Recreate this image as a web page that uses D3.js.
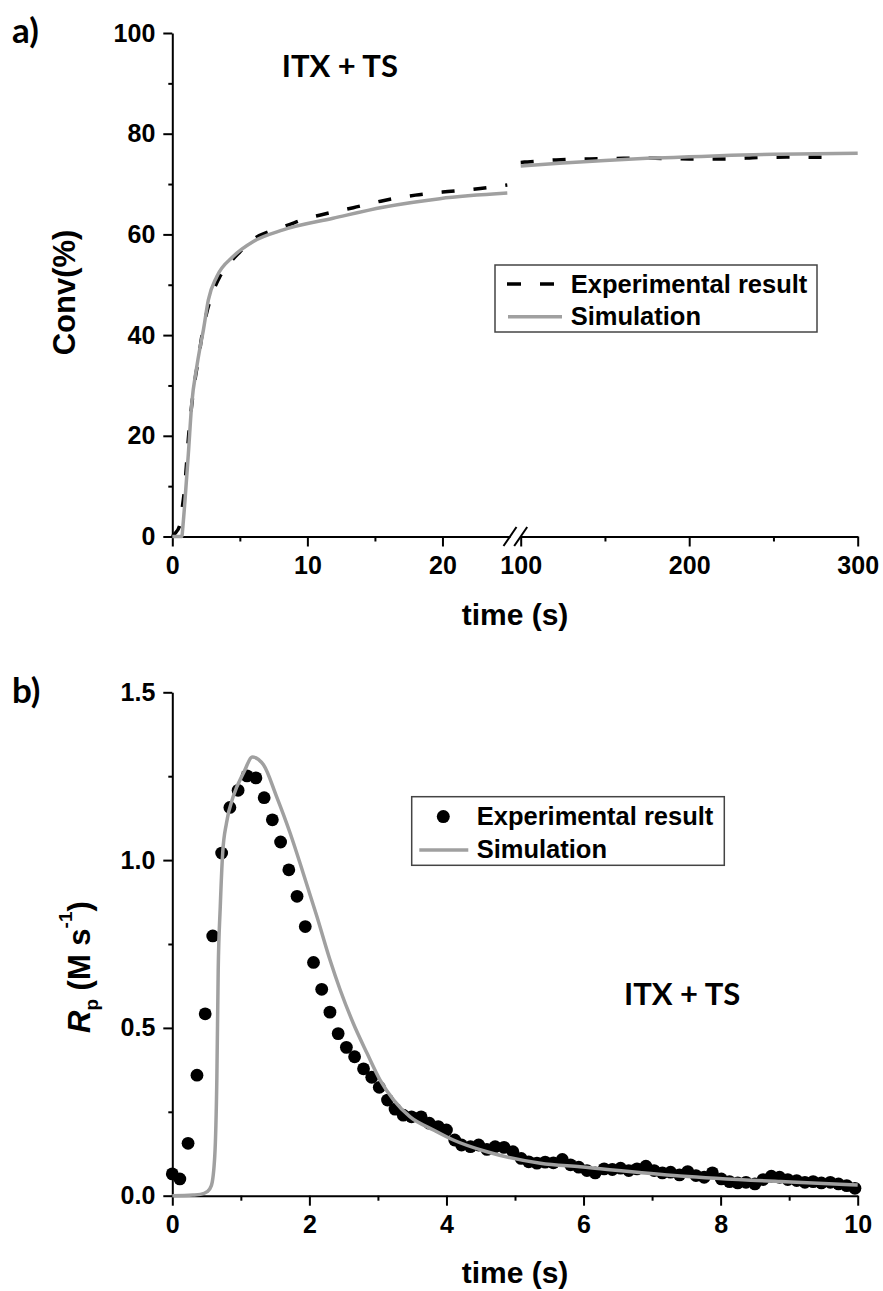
<!DOCTYPE html>
<html><head><meta charset="utf-8">
<script src="https://cdn.jsdelivr.net/npm/d3@7"></script>
<style>
body{margin:0;background:#fff}
svg{display:block;background:#fff}
text{font-family:"Liberation Sans",Arial,sans-serif;font-weight:bold;fill:#000}
.cal{font-family:Lato,"Open Sans",sans-serif;font-weight:bold}
</style></head><body>
<svg id="c" width="883" height="1291"></svg>
<script>
// ---------- Panel a) data ----------
const expLeftT = [0, 0.2, 0.55, 0.7, 0.87, 1.0, 1.2, 1.45, 1.7, 1.95, 2.2, 2.6, 3.0, 3.5, 4.0, 5.0, 6.2, 7.2, 8.5, 10.0, 10.9, 12.0, 13.4, 15.6, 18.0, 20.0, 22.8, 24.8];
const expLeftV = [0, 0.6, 2.2, 5.0, 8.5, 12.5, 19.8, 26.4, 31.5, 35.5, 40.0, 45.0, 48.5, 51.5, 53.5, 56.5, 59.4, 60.6, 61.8, 63.2, 63.8, 64.5, 65.3, 66.7, 67.8, 68.4, 69.1, 69.8];
const simLeftT = [0, 0.7, 0.8, 0.94, 1.19, 1.44, 1.8, 2.05, 2.3, 2.67, 3.29, 4.5, 6.0, 8.2, 11.9, 15.6, 19.8, 24.8];
const simLeftV = [0, 0, 2.5, 7.2, 16.5, 26.4, 33.5, 37.5, 41.0, 47.0, 51.6, 55.6, 58.6, 60.9, 63.2, 65.4, 67.1, 68.2];
const expRightT = [100, 104, 121, 141, 161, 180, 200, 224, 242, 261, 282, 287];
const expRightV = [74.3, 74.4, 74.8, 75.0, 75.1, 75.1, 75.0, 75.0, 75.3, 75.35, 75.3, 75.3];
const simRightT = [100, 125, 150, 175, 200, 225, 250, 275, 300];
const simRightV = [73.6, 74.2, 74.7, 75.1, 75.4, 75.7, 75.9, 76.0, 76.1];
const aYTicks = [0, 20, 40, 60, 80, 100];
const aYMinor = [10, 30, 50, 70, 90];
const aXLeftTicks = [0, 10, 20];
const aXLeftMinor = [5, 15];
const aXRightTicks = [100, 200, 300];
const aXRightMinor = [150, 250];

// ---------- Panel b) data ----------
const expT = [0.00,0.11,0.23,0.36,0.48,0.59,0.72,0.84,0.96,1.09,1.22,1.34,1.46,1.58,1.70,1.82,1.94,2.06,2.18,2.30,2.42,2.54,2.66,2.79,2.91,3.02,3.14,3.25,3.37,3.49,3.63,3.75,3.88,4.00,4.12,4.22,4.35,4.47,4.59,4.71,4.84,4.97,5.09,5.20,5.32,5.44,5.56,5.69,5.81,5.93,6.05,6.17,6.30,6.42,6.54,6.66,6.78,6.91,7.03,7.15,7.27,7.40,7.52,7.64,7.76,7.88,8.01,8.13,8.25,8.37,8.50,8.62,8.74,8.86,8.98,9.11,9.23,9.35,9.47,9.60,9.72,9.84,9.96];
const expV = [0.065,0.050,0.156,0.359,0.542,0.774,1.021,1.157,1.208,1.251,1.245,1.186,1.120,1.054,0.971,0.892,0.802,0.695,0.615,0.547,0.483,0.442,0.414,0.378,0.353,0.323,0.285,0.258,0.240,0.235,0.235,0.216,0.206,0.196,0.166,0.151,0.146,0.151,0.138,0.146,0.144,0.131,0.111,0.101,0.097,0.100,0.098,0.108,0.092,0.085,0.075,0.068,0.080,0.078,0.082,0.075,0.080,0.088,0.075,0.068,0.070,0.062,0.072,0.060,0.055,0.068,0.050,0.042,0.038,0.040,0.035,0.048,0.058,0.055,0.048,0.045,0.040,0.042,0.038,0.040,0.035,0.030,0.022];
const simT = [0,0.3,0.41,0.51,0.57,0.62,0.65,0.67,0.70,0.735,0.79,0.89,1.04,1.17,1.33,1.52,1.72,1.91,2.11,2.30,2.45,2.64,2.84,3.03,3.23,3.47,3.81,4.10,4.59,5.37,5.95,7.41,8.87,10];
const simV = [0,0.002,0.004,0.012,0.03,0.12,0.35,0.673,0.862,1.021,1.11,1.19,1.26,1.307,1.284,1.19,1.08,0.961,0.832,0.703,0.613,0.514,0.425,0.345,0.285,0.235,0.196,0.166,0.131,0.097,0.086,0.059,0.042,0.032];
const bYTicks = [0, 0.5, 1.0, 1.5];
const bYMinor = [0.25, 0.75, 1.25];
const bXTicks = [0, 2, 4, 6, 8, 10];
const bXMinor = [1, 3, 5, 7, 9];

const GRAY = "#a0a0a0";
const svg = d3.select("#c");

function styleAxis(g, fs) {
  g.selectAll(".domain").attr("stroke", "#000").attr("stroke-width", 2);
  g.selectAll(".tick line").attr("stroke", "#000").attr("stroke-width", 2);
  g.selectAll(".tick text").attr("font-size", fs).attr("font-family", '"Liberation Sans",Arial,sans-serif').attr("font-weight", "bold").attr("fill", "#000");
  g.attr("font-family", null).attr("font-size", null);
}
function minor(g) { g.select(".domain").remove(); g.selectAll(".tick line").attr("stroke","#000").attr("stroke-width",2); }

// ================= Panel a =================
const yA = d3.scaleLinear().domain([0, 100]).range([536.5, 33]);
const xAL = d3.scaleLinear().domain([0, 25]).range([172.3, 510]);
const xAR = d3.scaleLinear().domain([100, 300]).range([520.7, 857.7]);

const gA = svg.append("g");
gA.append("g").attr("transform", "translate(172.3,0)")
  .call(d3.axisLeft(yA).tickValues(aYTicks).tickSize(9).tickSizeOuter(0).tickPadding(8).tickFormat(d3.format("d")))
  .call(g => styleAxis(g, 25));
gA.append("g").attr("transform", "translate(172.3,0)")
  .call(d3.axisLeft(yA).tickValues(aYMinor).tickSize(4).tickFormat("")).call(minor);

gA.append("g").attr("transform", "translate(0,536.5)")
  .call(d3.axisBottom(xAL).tickValues(aXLeftTicks).tickSize(10).tickSizeOuter(0).tickPadding(10).tickFormat(d3.format("d")))
  .call(g => styleAxis(g, 25));
gA.append("g").attr("transform", "translate(0,536.5)")
  .call(d3.axisBottom(xAL).tickValues(aXLeftMinor).tickSize(5).tickFormat("")).call(minor);
gA.append("g").attr("transform", "translate(0,536.5)")
  .call(d3.axisBottom(xAR).tickValues(aXRightTicks).tickSize(10).tickSizeOuter(0).tickPadding(10).tickFormat(d3.format("d")))
  .call(g => styleAxis(g, 25));
gA.append("g").attr("transform", "translate(0,536.5)")
  .call(d3.axisBottom(xAR).tickValues(aXRightMinor).tickSize(5).tickFormat("")).call(minor);

// break marks
[xAL.range()[1], xAR.range()[0]].forEach(x => {
  gA.append("line").attr("x1", x - 6.5).attr("y1", 546).attr("x2", x + 6.5).attr("y2", 527)
    .attr("stroke", "#000").attr("stroke-width", 2);
});

const lineAL = d3.line().x(d => xAL(d[0])).y(d => yA(d[1])).curve(d3.curveMonotoneX);
const lineAR = d3.line().x(d => xAR(d[0])).y(d => yA(d[1])).curve(d3.curveMonotoneX);
const z = (a, b) => a.map((t, i) => [t, b[i]]);

gA.append("path").attr("d", lineAL(z(expLeftT, expLeftV))).attr("fill", "none")
  .attr("stroke", "#000").attr("stroke-width", 3.5).attr("stroke-dasharray", "13,19");
gA.append("path").attr("d", lineAR(z(expRightT, expRightV))).attr("fill", "none")
  .attr("stroke", "#000").attr("stroke-width", 3.5).attr("stroke-dasharray", "13,19");
gA.append("path").attr("d", lineAL(z(simLeftT, simLeftV))).attr("fill", "none")
  .attr("stroke", GRAY).attr("stroke-width", 3.5);
gA.append("path").attr("d", lineAR(z(simRightT, simRightV))).attr("fill", "none")
  .attr("stroke", GRAY).attr("stroke-width", 3.5);

// texts a
svg.append("text").attr("class", "cal").attr("x", 12).attr("y", 43).attr("font-size", 35).text("a)");
svg.append("text").attr("class", "cal").attr("x", 281.7).attr("y", 76.7).attr("font-size", 31).text("ITX + TS");
svg.append("text").attr("transform", "translate(75,292.5) rotate(-90)").attr("text-anchor", "middle")
  .attr("font-size", 31).text("Conv(%)");
svg.append("text").attr("x", 515).attr("y", 625).attr("text-anchor", "middle").attr("font-size", 30).text("time (s)");

// legend a
const legA = svg.append("g");
legA.append("rect").attr("x", 495).attr("y", 265).attr("width", 322).attr("height", 67)
  .attr("fill", "#fff").attr("stroke", "#444").attr("stroke-width", 1.5);
legA.append("line").attr("x1", 507).attr("x2", 554).attr("y1", 284).attr("y2", 284)
  .attr("stroke", "#000").attr("stroke-width", 3.5).attr("stroke-dasharray", "14,19");
legA.append("text").attr("x", 570.7).attr("y", 293).attr("font-size", 25.5).text("Experimental result");
legA.append("line").attr("x1", 508).attr("x2", 562).attr("y1", 316.7).attr("y2", 316.7)
  .attr("stroke", GRAY).attr("stroke-width", 3.5);
legA.append("text").attr("x", 570.7).attr("y", 325).attr("font-size", 25.5).text("Simulation");

// ================= Panel b =================
const yB = d3.scaleLinear().domain([0, 1.5]).range([1195.7, 692.3]);
const xB = d3.scaleLinear().domain([0, 10]).range([172.3, 857.7]);
const gB = svg.append("g");
gB.append("g").attr("transform", "translate(172.3,0)")
  .call(d3.axisLeft(yB).tickValues(bYTicks).tickSize(9).tickSizeOuter(0).tickPadding(8).tickFormat(d3.format(".1f")))
  .call(g => styleAxis(g, 25));
gB.append("g").attr("transform", "translate(172.3,0)")
  .call(d3.axisLeft(yB).tickValues(bYMinor).tickSize(4).tickFormat("")).call(minor);
gB.append("g").attr("transform", "translate(0,1195.7)")
  .call(d3.axisBottom(xB).tickValues(bXTicks).tickSize(10).tickSizeOuter(0).tickPadding(10).tickFormat(d3.format("d")))
  .call(g => styleAxis(g, 25));
gB.append("g").attr("transform", "translate(0,1195.7)")
  .call(d3.axisBottom(xB).tickValues(bXMinor).tickSize(5).tickFormat("")).call(minor);

gB.append("g").selectAll("circle").data(z(expT, expV)).join("circle")
  .attr("cx", d => xB(d[0])).attr("cy", d => yB(d[1])).attr("r", 6.4).attr("fill", "#000");
const lineB = d3.line().x(d => xB(d[0])).y(d => yB(d[1])).curve(d3.curveMonotoneX);
gB.append("path").attr("d", lineB(z(simT, simV))).attr("fill", "none")
  .attr("stroke", GRAY).attr("stroke-width", 3.5);

svg.append("text").attr("class", "cal").attr("x", 12).attr("y", 703).attr("font-size", 35).text("b)");
svg.append("text").attr("class", "cal").attr("x", 624).attr("y", 1005).attr("font-size", 31).text("ITX + TS");
svg.append("text").attr("x", 515).attr("y", 1283).attr("text-anchor", "middle").attr("font-size", 30).text("time (s)");

const rp = svg.append("text").attr("transform", "translate(90,1033) rotate(-90)").attr("font-size", 31);
rp.append("tspan").attr("font-style", "italic").text("R");
rp.append("tspan").attr("font-size", 19).attr("dy", 8).text("p");
rp.append("tspan").attr("dy", -8).text(" (M s");
rp.append("tspan").attr("font-size", 19).attr("dy", -18).text("-1");
rp.append("tspan").attr("dy", 18).text(")");

// legend b
const legB = svg.append("g");
legB.append("rect").attr("x", 411.7).attr("y", 796.7).attr("width", 312.6).attr("height", 68.6)
  .attr("fill", "#fff").attr("stroke", "#444").attr("stroke-width", 1.5);
legB.append("circle").attr("cx", 443.3).attr("cy", 816.6).attr("r", 6.5).attr("fill", "#000");
legB.append("text").attr("x", 476.7).attr("y", 825).attr("font-size", 25.5).text("Experimental result");
legB.append("line").attr("x1", 419.3).attr("x2", 468.3).attr("y1", 850).attr("y2", 850)
  .attr("stroke", GRAY).attr("stroke-width", 3.5);
legB.append("text").attr("x", 476.7).attr("y", 858).attr("font-size", 25.5).text("Simulation");
</script>
</body></html>
